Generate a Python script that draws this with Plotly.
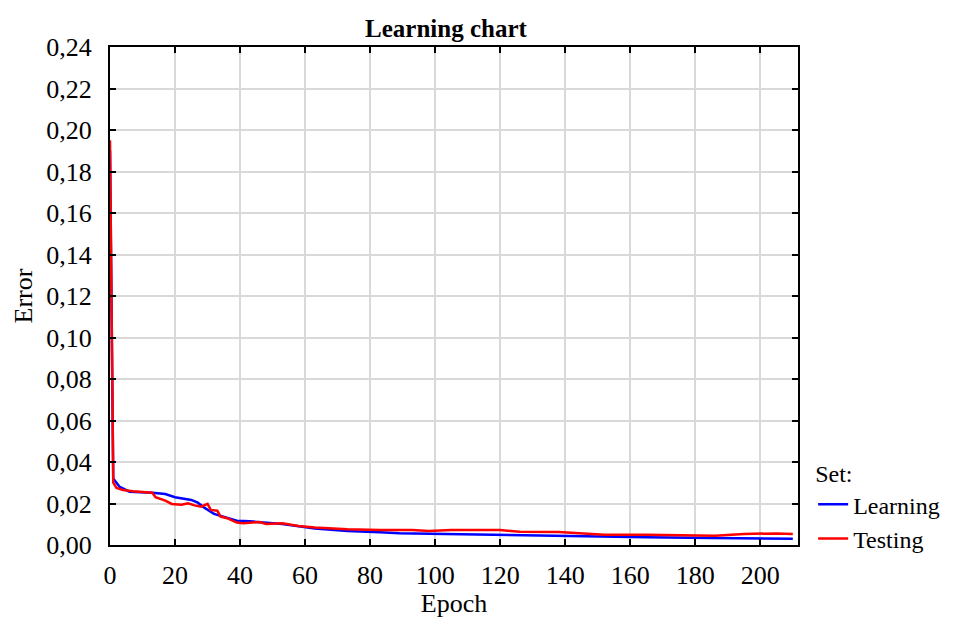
import plotly.graph_objects as go

# Error per training epoch for the learning and testing sets
learning_epochs = [0, 1, 3, 6, 13, 17, 20, 25, 27, 29, 32, 36, 39, 43, 53, 63, 73,
                   83, 89, 103, 124, 144, 165, 185, 210]
learning_error = [0.190, 0.032, 0.028, 0.0257, 0.0252, 0.0246, 0.0230, 0.0217, 0.0204,
                  0.0180, 0.0150, 0.0133, 0.0117, 0.0114, 0.0101, 0.0080, 0.0067,
                  0.0061, 0.0057, 0.0053, 0.0047, 0.0042, 0.0037, 0.0034, 0.0030]

testing_epochs = [0, 1, 2, 4, 7, 13, 14, 17, 19, 22, 24, 26, 28, 30, 31, 33, 34, 36,
                  39, 41, 46, 48, 53, 58, 63, 73, 83, 93, 98, 105, 120, 126, 138, 144,
                  152, 165, 180, 186, 195, 205, 210]
testing_error = [0.195, 0.030, 0.0275, 0.0265, 0.0259, 0.0252, 0.0230, 0.0214, 0.0198,
                 0.0194, 0.0201, 0.0191, 0.0185, 0.0198, 0.0169, 0.0165, 0.0137, 0.0129,
                 0.0108, 0.0105, 0.0111, 0.0101, 0.0105, 0.0092, 0.0084, 0.0076, 0.0072,
                 0.0072, 0.0067, 0.0072, 0.0072, 0.0064, 0.0063, 0.0056, 0.0050, 0.0050,
                 0.0047, 0.0045, 0.0053, 0.0056, 0.0053]

x_ticks = list(range(0, 201, 20))
y_ticks = [i * 0.02 for i in range(13)]

FONT = "Liberation Serif"
TICK_SIZE = 26

fig = go.Figure()
fig.add_trace(go.Scatter(x=learning_epochs, y=learning_error, mode="lines",
                         name="Learning", line=dict(color="#0000ff", width=2.5)))
fig.add_trace(go.Scatter(x=testing_epochs, y=testing_error, mode="lines",
                         name="Testing", line=dict(color="#ff0000", width=2.5)))

axis_common = dict(
    showline=True, linecolor="black", linewidth=2, mirror="ticks",
    ticks="inside", ticklen=6, tickwidth=2, tickcolor="black",
    showgrid=True, gridcolor="#d9d9d9", gridwidth=2, zeroline=False,
    tickfont=dict(family=FONT, size=TICK_SIZE, color="black"),
)

fig.update_xaxes(range=[0, 211.6], tickvals=x_ticks, automargin=False,
                 title=dict(text="Epoch", font=dict(family=FONT, size=TICK_SIZE, color="black")),
                 ticklabelstandoff=6, **axis_common)
fig.update_yaxes(range=[0, 0.24], tickvals=y_ticks, tickformat=".2f", automargin=True,
                 title=dict(text="Error", font=dict(family=FONT, size=TICK_SIZE, color="black"),
                            standoff=6),
                 ticklabelstandoff=11, **axis_common)

fig.update_layout(
    width=965, height=618,
    margin=dict(l=110, r=167, t=47, b=73),
    separators=",.",
    paper_bgcolor="white", plot_bgcolor="white",
    title=dict(text="<b>Learning chart</b>", x=446 / 965, xanchor="center",
               y=1 - 28 / 618, yanchor="middle", yref="container",
               font=dict(family=FONT, size=25, color="black")),
    legend=dict(x=1.022, xanchor="left", y=0.189, yanchor="top",
                title=dict(text="Set:", font=dict(family=FONT, size=24, color="black")),
                font=dict(family=FONT, size=24, color="black"),
                bgcolor="rgba(0,0,0,0)", tracegroupgap=0, itemwidth=30),
    showlegend=True,
)

fig.write_html("out.html")
